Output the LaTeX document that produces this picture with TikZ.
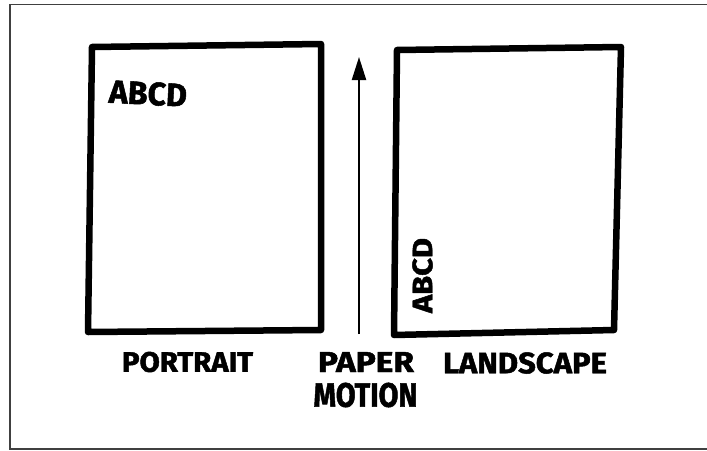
\documentclass[tikz,border=0pt]{standalone}
\usepackage{fontspec}
\usepackage{graphicx}
\setmainfont{Fira Sans}
\newfontfamily\markerfont{Fira Sans}[UprightFont=* Bold, FakeBold=1.6]
\usetikzlibrary{arrows.meta}
\tikzset{
  frameline/.style={draw=black!75, line width=1.2pt},
  sheet/.style={draw=black, line width=6.5pt, line join=round, line cap=round},
  hand/.style={inner sep=0pt, outer sep=0pt, font=\markerfont},
  motion/.style={draw=black, line width=2.2pt, -{Triangle[length=23pt, width=14pt]}}
}
\begin{document}
\begin{tikzpicture}[x=1pt, y=-1pt]
\useasboundingbox (0,0) rectangle (707,450);
\fill[white] (0,0) rectangle (707,450);
% outer frame (top, left, bottom)
\draw[frameline] (707,4.5) -- (10,4.5) -- (10,449) -- (707,449);
% portrait sheet
\draw[sheet] (92,47) -- (321,44) -- (321,330) -- (88,332) -- cycle;
% landscape sheet
\draw[sheet] (397,50) -- (621,47) -- (614,330) -- (394,335) -- cycle;
% paper motion arrow
\coordinate (mfrom) at (359,334);
\coordinate (mto) at (359,57);
\draw[motion] (mfrom) -- (mto);
% texts
\node[hand, rotate=-3] (abcd1) at (148,93.5) {\resizebox{78pt}{23pt}{ABCD}};
\node[hand, rotate=90] (abcd2) at (422.5,275.5) {\resizebox{75pt}{20pt}{ABCD}};
\node[hand] (portrait) at (187.5,362) {\resizebox{131pt}{20pt}{PORTRAIT}};
\node[hand] (paper) at (366,362) {\resizebox{96pt}{20pt}{PAPER}};
\node[hand] (motionlbl) at (365.5,395) {\resizebox{104pt}{24pt}{MOTION}};
\node[hand] (landscape) at (525,363) {\resizebox{164pt}{21pt}{LANDSCAPE}};
\end{tikzpicture}
\end{document}
